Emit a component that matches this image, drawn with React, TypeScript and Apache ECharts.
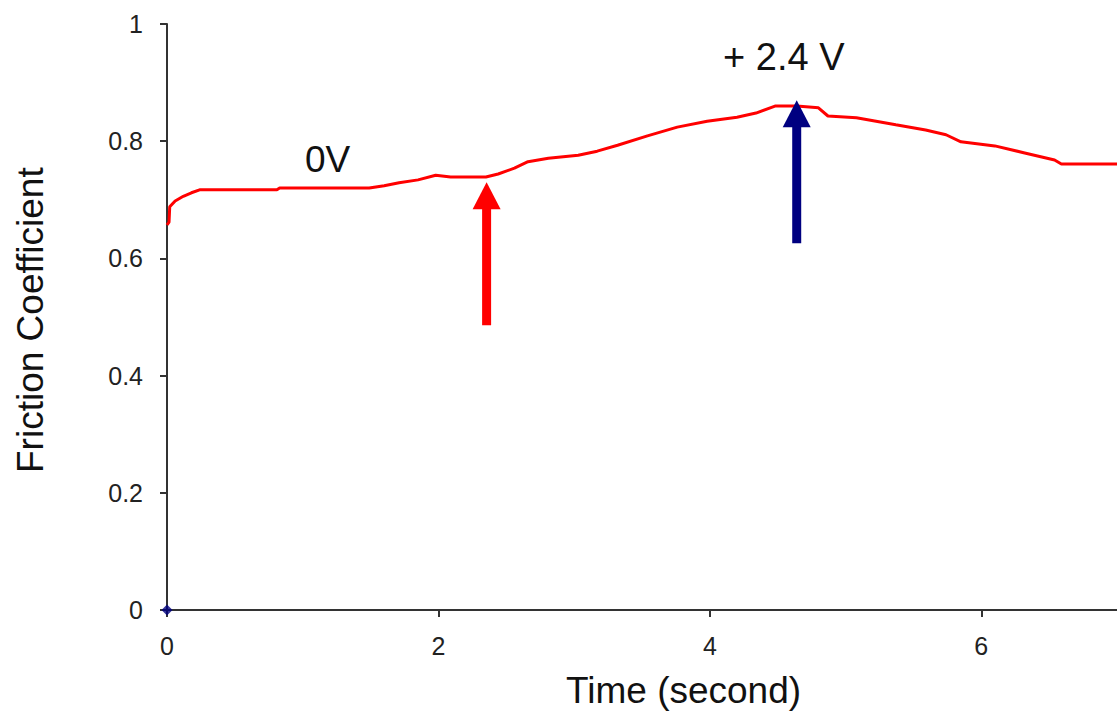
import React, { useEffect, useRef } from "react";
import * as echarts from "echarts";

const timeValues = [0, 0.015, 0.02, 0.06, 0.12, 0.18, 0.24, 0.81, 0.83, 1.49, 1.6, 1.71, 1.85, 1.98, 2.09, 2.35, 2.44, 2.56, 2.66, 2.81, 3.03, 3.17, 3.32, 3.54, 3.76, 3.98, 4.2, 4.34, 4.48, 4.64, 4.8, 4.87, 5.08, 5.37, 5.59, 5.74, 5.85, 6.1, 6.32, 6.54, 6.59, 7.0];
const frictionValues = [0.657, 0.662, 0.688, 0.698, 0.706, 0.712, 0.717, 0.717, 0.72, 0.72, 0.724, 0.729, 0.734, 0.742, 0.739, 0.739, 0.744, 0.754, 0.765, 0.771, 0.776, 0.783, 0.793, 0.809, 0.824, 0.834, 0.841, 0.848, 0.86, 0.86, 0.857, 0.843, 0.84, 0.828, 0.819, 0.811, 0.799, 0.792, 0.78, 0.768, 0.761, 0.761];

// arrows: x, bottom value, tip value
const arrowX = [2.355, 4.64];
const arrowBottom = [0.486, 0.626];
const arrowTip = [0.73, 0.87];
const arrowColors = ["#ff0000", "#000080"];

const xTicks = { min: 0, max: 7, interval: 2 };
const yTicks = { min: 0, max: 1, interval: 0.2 };

const FONT = "'Liberation Sans', Arial, sans-serif";

export default function App() {
  const ref = useRef<HTMLDivElement>(null);
  useEffect(() => {
    if (!ref.current) return;
    const chart = echarts.init(ref.current, undefined, { renderer: "svg" });
    const arrowData = arrowX.map((x, i) => [x, arrowBottom[i], arrowTip[i], i]);
    chart.setOption({
      animation: false,
      backgroundColor: "#ffffff",
      grid: { left: 167, top: 24, bottom: 105, right: -5.5, containLabel: false },
      xAxis: {
        type: "value",
        min: xTicks.min,
        max: xTicks.max,
        interval: xTicks.interval,
        axisLine: { show: true, onZero: false, lineStyle: { color: "#333", width: 2 } },
        axisTick: { show: true, length: 7, lineStyle: { color: "#333", width: 2 } },
        axisLabel: { showMaxLabel: false, margin: 23, fontSize: 25, color: "#222", fontFamily: FONT },
        splitLine: { show: false },
      },
      yAxis: {
        type: "value",
        min: yTicks.min,
        max: yTicks.max,
        interval: yTicks.interval,
        axisLine: { show: true, lineStyle: { color: "#333", width: 2 } },
        axisTick: { show: true, length: 7, lineStyle: { color: "#333", width: 2 } },
        axisLabel: { margin: 24, fontSize: 25, color: "#222", fontFamily: FONT },
        splitLine: { show: false },
      },
      graphic: [
        { type: "text", left: 566, top: 672, style: { text: "Time (second)", font: `37px ${FONT}`, fill: "#111" } },
        { type: "text", x: 12, y: 473, rotation: Math.PI / 2, style: { text: "Friction Coefficient", font: `37px ${FONT}`, fill: "#111" } },
        { type: "text", left: 305, top: 141, style: { text: "0V", font: `37px ${FONT}`, fill: "#111" } },
        { type: "text", left: 723, top: 38, style: { text: "+ 2.4 V", font: `38px ${FONT}`, fill: "#111" } },
      ],
      series: [
        {
          type: "line",
          data: timeValues.map((t, i) => [t, frictionValues[i]]),
          showSymbol: false,
          lineStyle: { color: "#ff0000", width: 3 },
          z: 3,
        },
        {
          type: "scatter",
          data: [[0, 0]],
          symbol: "diamond",
          symbolSize: 11,
          clip: false,
          itemStyle: { color: "#000080" },
          z: 5,
        },
        {
          type: "custom",
          data: arrowData,
          z: 4,
          renderItem: (params: any, api: any) => {
            const x = api.value(0);
            const bottom = api.coord([x, api.value(1)]);
            const tip = api.coord([x, api.value(2)]);
            const color = arrowColors[api.value(3)];
            const headH = 27;
            const headW = 28;
            const shaftW = 9;
            return {
              type: "group",
              children: [
                {
                  type: "rect",
                  shape: { x: bottom[0] - shaftW / 2, y: tip[1] + headH - 1, width: shaftW, height: bottom[1] - tip[1] - headH + 1 },
                  style: { fill: color },
                },
                {
                  type: "polygon",
                  shape: { points: [[tip[0], tip[1]], [tip[0] - headW / 2, tip[1] + headH], [tip[0] + headW / 2, tip[1] + headH]] },
                  style: { fill: color },
                },
              ],
            };
          },
        },
      ],
    });
    return () => chart.dispose();
  }, []);
  return <div ref={ref} style={{ position: "fixed", left: 0, top: 0, width: 1117, height: 715 }} />;
}
